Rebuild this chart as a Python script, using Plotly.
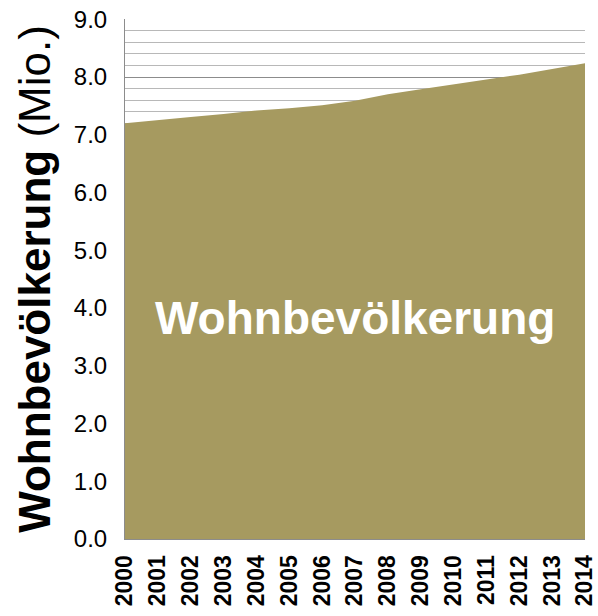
import plotly.graph_objects as go

# Wohnbevölkerung (Mio.)
years = [2000, 2001, 2002, 2003, 2004, 2005, 2006, 2007,
         2008, 2009, 2010, 2011, 2012, 2013, 2014]
population = [7.20, 7.26, 7.31, 7.36, 7.42, 7.46, 7.51, 7.59,
              7.70, 7.79, 7.87, 7.95, 8.04, 8.14, 8.24]
y_ticks = [0, 1, 2, 3, 4, 5, 6, 7, 8, 9]
y_labels = ["%.1f" % v for v in y_ticks]
x_labels = ["<b>%d</b>" % y for y in years]

FILL = "#A69A60"
FONT = "Liberation Sans, Arial, sans-serif"

fig = go.Figure()
fig.add_trace(go.Scatter(
    x=years, y=population,
    mode="lines", line=dict(width=0, color=FILL),
    fill="tozeroy", fillcolor=FILL,
    hoverinfo="x+y", showlegend=False,
))

# label inside the area
fig.add_annotation(
    x=(years[0] + years[-1]) / 2, y=3.82,
    text="<b>Wohnbevölkerung</b>", showarrow=False,
    font=dict(family=FONT, size=46, color="white"),
)

fig.update_layout(
    width=598, height=616,
    margin=dict(l=125, r=13, t=19, b=77),
    paper_bgcolor="white", plot_bgcolor="white",
    font=dict(family=FONT, color="black"),
)

fig.update_xaxes(
    range=[years[0], years[-1]],
    tickmode="array", tickvals=years, ticktext=x_labels,
    tickangle=-90, tickfont=dict(size=23, family=FONT),
    ticklabelstandoff=6, automargin=False,
    showgrid=False, zeroline=False,
    showline=True, linecolor="#8c8c8c", linewidth=1,
)

fig.update_yaxes(
    range=[0, 9.005],
    tickmode="array", tickvals=y_ticks, ticktext=y_labels,
    tickfont=dict(size=24, family=FONT),
    ticklabelstandoff=12, automargin=False,
    showgrid=True, gridcolor="#8c8c8c", gridwidth=1,
    minor=dict(dtick=0.2, showgrid=True, gridcolor="#b8b8b8", gridwidth=1),
    zeroline=False,
    showline=True, linecolor="#8c8c8c", linewidth=1,
    title=dict(
        text="<b>Wohnbevölkerung</b> (Mio.)",
        font=dict(size=44, family=FONT),
        standoff=9,
    ),
)

# drop the default 8px body margin so the figure fills the window
fig.write_html(
    "out.html",
    config={"displayModeBar": False},
    post_script="document.body.style.margin='0';",
)
